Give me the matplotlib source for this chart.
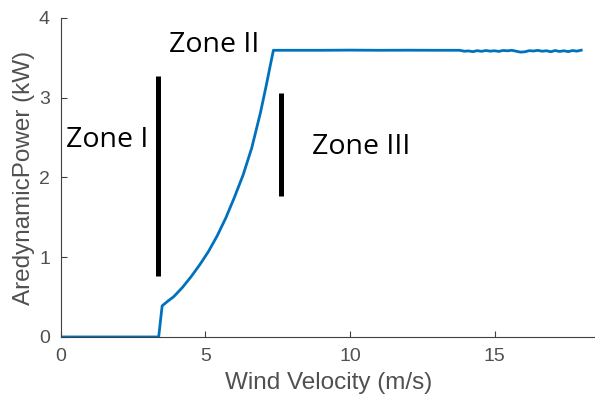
import matplotlib
matplotlib.use("Agg")
import matplotlib.pyplot as plt

# Data
wind = [0.0, 3.38, 3.50, 3.70, 3.90, 4.20, 4.50, 4.80, 5.10, 5.40, 5.70, 6.00,
        6.30, 6.60, 6.90, 7.10, 7.25, 7.35,
        8.0, 9.0, 10.0, 11.0, 12.0, 13.0, 13.8,
        13.95, 14.1, 14.25, 14.4, 14.55, 14.7, 14.85, 15.0, 15.15, 15.3,
        15.45, 15.6, 15.75, 15.9, 16.05, 16.2, 16.35, 16.5, 16.65, 16.8,
        16.95, 17.1, 17.25, 17.4, 17.55, 17.7, 17.85, 18.0]
power = [0.0, 0.0, 0.39, 0.45, 0.505, 0.62, 0.755, 0.905, 1.07, 1.265, 1.49, 1.75,
         2.03, 2.37, 2.81, 3.15, 3.42, 3.595,
         3.595, 3.595, 3.597, 3.595, 3.596, 3.595, 3.595,
         3.583, 3.587, 3.578, 3.590, 3.582, 3.592, 3.584, 3.589, 3.581, 3.593,
         3.588, 3.595, 3.583, 3.572, 3.576, 3.590, 3.586, 3.594, 3.583, 3.589,
         3.577, 3.592, 3.580, 3.589, 3.578, 3.592, 3.584, 3.596]

bar_x = [3.36, 7.6]
bar_ymin = [0.76, 1.77]
bar_ymax = [3.27, 3.06]

zone_labels = ["Zone I", "Zone II", "Zone III"]
zone_x = [0.17, 3.74, 8.67]
zone_y = [2.47, 3.655, 2.38]

xticks = [0, 5, 10, 15]
yticks = [0, 1, 2, 3, 4]

fig = plt.figure(figsize=(5.95, 4.05), dpi=100)
ax = fig.add_axes([0.1025, 0.168, 0.8986, 0.7876])

ax.plot(wind, power, color="#0072BD", lw=2.0, solid_joinstyle="round")
ax.vlines(bar_x, bar_ymin, bar_ymax, colors="black", lw=3.6)

for lab, x, y in zip(zone_labels, zone_x, zone_y):
    ax.text(x, y, lab, fontsize=20.5, family="Open Sans", color="black",
            ha="left", va="center")

ax.set_xlim(0, 18.5)
ax.set_ylim(0, 4)
ax.set_xticks(xticks)
ax.set_yticks(yticks)
for s in ["top", "right"]:
    ax.spines[s].set_visible(False)
for s in ["left", "bottom"]:
    ax.spines[s].set_color("#404040")
    ax.spines[s].set_linewidth(0.8)
ax.tick_params(direction="in", length=4, width=0.8, color="#404040",
               labelcolor="#505050", labelsize=14, pad=8)
for lab in ax.get_xticklabels() + ax.get_yticklabels():
    lab.set_family("Liberation Sans")
ax.set_xlabel("Wind Velocity (m/s)", fontsize=17.5, color="#505050",
              family="Liberation Sans", labelpad=5)
ax.set_ylabel("AredynamicPower (kW)", fontsize=17.5, color="#505050",
              family="Liberation Sans", labelpad=3)

fig.savefig("out.png", dpi=100)
